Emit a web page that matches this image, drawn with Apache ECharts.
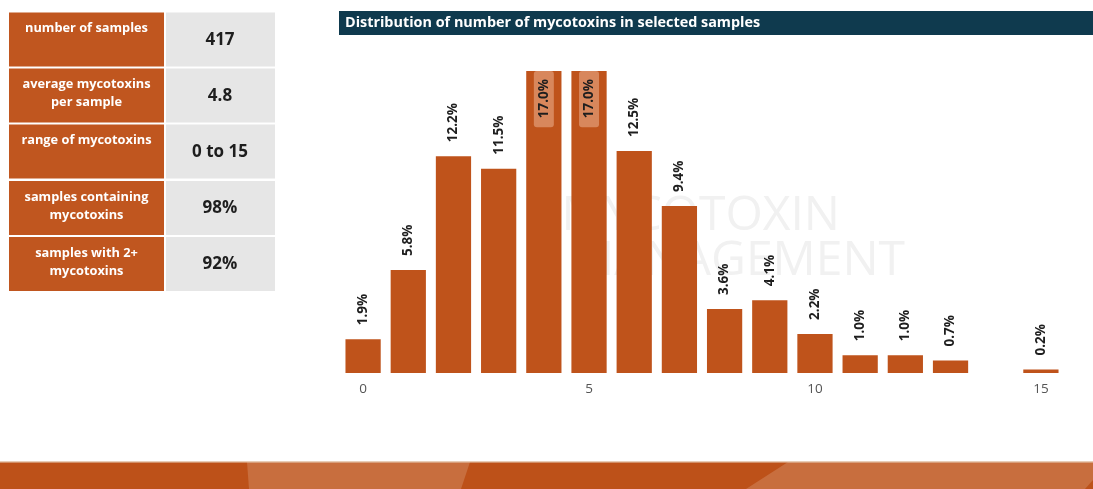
<!DOCTYPE html>
<html>
<head>
<meta charset="utf-8">
<script src="https://cdn.jsdelivr.net/npm/echarts@6/dist/echarts.min.js"></script>
<style>
html,body{margin:0;padding:0;background:#fff;}
#chart{width:1093px;height:489px;}
</style>
</head>
<body>
<div id="chart"></div>
<script>
// ---- data ----
var categories = ['0','1','2','3','4','5','6','7','8','9','10','11','12','13','14','15'];
var shares = [1.9, 5.8, 12.2, 11.5, 17.0, 17.0, 12.5, 9.4, 3.6, 4.1, 2.2, 1.0, 1.0, 0.7, null, 0.2];
var tickLabels = ['0','5','10','15'];
var tableLabels = ['number of samples', 'average mycotoxins\nper sample', 'range of mycotoxins', 'samples containing\nmycotoxins', 'samples with 2+\nmycotoxins'];
var tableValues = ['417', '4.8', '0 to 15', '98%', '92%'];
var chartTitle = 'Distribution of number of mycotoxins in selected samples';

var ORANGE = '#bf531b';
var FONT = '"Open Sans", "Noto Sans", sans-serif';

var chart = echarts.init(document.getElementById('chart'), null, {renderer: 'canvas'});

// table graphics
var graphics = [];
var rowTops = [12.5, 68.5, 124.5, 181, 237];
var rowH = 54;
for (var i = 0; i < tableLabels.length; i++) {
  var y = rowTops[i];
  graphics.push({type: 'rect', shape: {x: 9, y: y, width: 155, height: rowH}, style: {fill: '#c0561f'}, z: 1});
  graphics.push({type: 'rect', shape: {x: 166, y: y, width: 109, height: rowH}, style: {fill: '#e6e6e6'}, z: 1});
  graphics.push({type: 'text', x: 86.5, y: y + 7, z: 2, style: {text: tableLabels[i], fill: '#ffffff', font: 'bold 12.8px ' + FONT, textAlign: 'center', textVerticalAlign: 'top', lineHeight: 18}});
  graphics.push({type: 'text', x: 220, y: y + rowH / 2 + 0.5, z: 2, style: {text: tableValues[i], fill: '#1e1e1e', font: 'bold 17px ' + FONT, textAlign: 'center', textVerticalAlign: 'middle'}});
}
// title bar
graphics.push({type: 'rect', shape: {x: 339, y: 11, width: 754, height: 24}, style: {fill: '#0f3a4e'}, z: 1});
graphics.push({type: 'text', x: 345, y: 23, z: 2, style: {text: chartTitle, fill: '#ffffff', font: 'bold 14.4px ' + FONT, textAlign: 'left', textVerticalAlign: 'middle'}});
// watermark
graphics.push({type: 'text', x: 840, y: 216, z: 0, style: {text: 'MYCOTOXIN', fill: '#f1f1f1', font: '48px ' + FONT, textAlign: 'right', textVerticalAlign: 'middle'}});
graphics.push({type: 'text', x: 905, y: 261, z: 0, style: {text: 'MANAGEMENT', fill: '#f1f1f1', font: '48px ' + FONT, textAlign: 'right', textVerticalAlign: 'middle'}});
// bottom band
graphics.push({type: 'rect', shape: {x: 0, y: 462, width: 1093, height: 27}, style: {fill: '#bd5119'}, z: 1});
graphics.push({type: 'polygon', shape: {points: [[247, 462], [470, 462], [461, 489], [249, 489]]}, style: {fill: '#c86e3e'}, z: 2});
graphics.push({type: 'polygon', shape: {points: [[788, 462], [1093, 462], [1093, 480], [1085, 489], [746, 489]]}, style: {fill: '#c86e3e'}, z: 2});
graphics.push({type: 'rect', shape: {x: 0, y: 461, width: 1093, height: 1.5}, style: {fill: '#e8cdb8'}, z: 3});

var seriesData = shares.map(function (v, idx) {
  if (v === null) return null;
  if (v >= 17) {
    return {
      value: v,
      label: {
        position: 'insideTop', distance: 0, rotate: 90, align: 'right', verticalAlign: 'middle',
        backgroundColor: '#d8875c', borderRadius: 3, padding: [3, 8, 3, 9]
      }
    };
  }
  return v;
});

chart.setOption({
  animation: false,
  backgroundColor: '#ffffff',
  textStyle: {fontFamily: FONT},
  graphic: graphics,
  grid: {left: 340.5, right: 29.5, top: 71, bottom: 116, containLabel: false},
  xAxis: {
    type: 'category',
    data: categories,
    axisLine: {show: false},
    axisTick: {show: false},
    axisLabel: {
      color: '#555555', fontSize: 13.5, margin: 9, interval: 0,
      formatter: function (v) { return tickLabels.indexOf(v) >= 0 ? v : ''; }
    }
  },
  yAxis: {type: 'value', min: 0, max: 17, show: false, splitLine: {show: false}},
  series: [{
    type: 'bar',
    data: seriesData,
    barCategoryGap: '22%',
    itemStyle: {color: ORANGE},
    z: 3,
    label: {
      show: true, position: 'top', distance: 14, rotate: 90, align: 'left', verticalAlign: 'middle',
      color: '#1e1e1e', fontWeight: 'bold', fontSize: 13.5, fontFamily: FONT,
      formatter: function (p) { return p.value.toFixed(1) + '%'; }
    }
  }]
});
</script>
</body>
</html>
